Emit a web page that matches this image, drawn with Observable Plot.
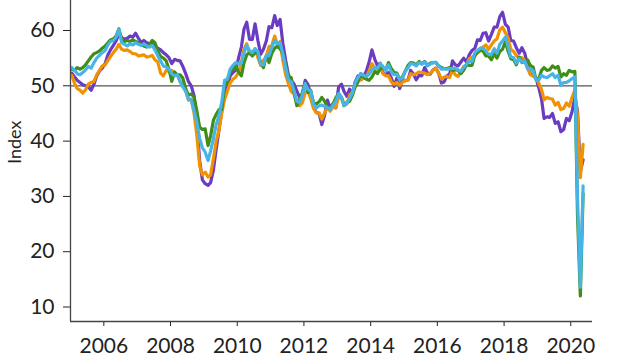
<!DOCTYPE html>
<html><head><meta charset="utf-8">
<script src="https://cdn.jsdelivr.net/npm/d3@7"></script>
<script src="https://cdn.jsdelivr.net/npm/@observablehq/plot@0.6"></script>
<style>body{margin:0;background:#fff}#chart{width:640px;height:360px}</style>
</head><body><div id="chart"></div>
<script>
const startYear = 2005;
const seriesNames = ["Germany manufacturing", "Eurozone manufacturing", "Eurozone services", "Eurozone composite"];
const seriesColors = ["#6a3cc2", "#f39200", "#3e8e17", "#47b4e8"];
const yLabel = "Index";
const yTicks = [10, 20, 30, 40, 50, 60];
const xTickYears = [2006, 2008, 2010, 2012, 2014, 2016, 2018, 2020];
const refValue = 50;

const purple = [
52.3,51.6,51.0,50.6,50.2,50.0,49.8,49.2,50.3,51.8,52.7,53.2,
54.0,55.6,56.5,57.3,58.1,59.4,58.7,58.4,58.6,59.0,58.8,59.5,
58.6,57.8,58.2,57.8,57.6,57.9,57.0,56.8,56.5,56.0,55.6,55.1,
54.0,54.8,54.6,54.5,53.5,52.2,50.8,50.0,48.2,43.5,36.5,33.0,
32.3,32.0,32.5,34.8,38.5,42.0,45.5,49.0,49.8,51.8,52.4,52.8,
55.0,57.0,60.2,61.5,58.4,58.4,61.2,58.2,55.7,56.6,58.1,60.7,
60.5,62.7,60.9,62.0,57.7,54.6,52.0,50.9,50.3,49.1,47.9,48.4,
51.0,50.2,48.4,46.2,45.2,45.0,43.0,44.7,47.4,46.0,46.8,46.0,
49.8,50.3,49.0,48.1,49.4,48.6,50.7,51.8,51.1,51.7,52.7,54.3,
56.5,54.8,53.7,54.1,52.3,52.0,52.4,51.4,49.9,51.4,49.5,51.2,
50.9,51.1,52.8,52.1,51.1,51.9,51.8,53.3,52.3,52.1,52.9,53.2,
52.3,50.5,50.7,51.8,52.1,54.5,53.8,53.6,54.3,55.0,54.3,55.6,
56.4,56.8,58.3,58.2,59.5,59.6,58.1,59.3,60.6,60.6,62.5,63.3,
61.1,60.6,58.2,58.1,56.9,55.9,56.9,55.9,53.7,52.2,51.8,51.5,
49.7,47.6,44.1,44.4,44.3,45.0,43.2,43.5,41.7,42.1,44.1,43.7,
45.3,48.0,45.4,34.5,36.6];

const orange = [
51.9,50.4,49.5,49.2,48.7,49.3,50.3,50.6,50.8,52.0,52.8,53.6,
53.8,54.6,55.3,56.0,56.6,57.5,56.6,56.4,56.5,56.2,55.8,55.8,
55.4,55.5,55.6,55.2,55.3,55.5,54.7,54.3,52.3,51.8,52.8,52.6,
52.8,52.3,52.0,50.7,50.0,49.2,47.4,47.6,45.0,41.1,35.6,33.9,
34.4,33.5,33.9,36.8,40.0,42.0,45.0,47.5,49.0,50.5,51.2,51.6,
52.4,54.2,56.6,57.6,55.8,55.6,56.7,55.1,53.7,54.6,55.3,57.1,
57.3,59.0,57.5,58.0,54.6,52.0,50.4,49.0,48.5,47.1,46.4,46.9,
48.8,49.0,47.7,45.9,45.1,45.1,44.0,45.1,46.1,45.4,46.2,46.1,
47.9,47.9,46.8,46.7,48.3,48.8,50.3,51.4,51.1,51.3,51.6,52.7,
54.0,53.2,53.0,53.4,52.2,51.8,51.8,50.7,50.3,50.6,50.1,50.6,
51.0,51.0,52.2,52.0,52.2,52.5,52.4,52.3,52.0,52.3,52.8,53.2,
52.3,51.2,51.6,51.7,51.5,52.8,52.0,51.7,52.6,53.5,53.7,54.9,
55.2,55.4,56.2,56.7,57.0,57.4,56.6,57.4,58.1,58.5,60.1,60.6,
59.6,58.6,56.6,56.2,55.5,54.9,55.1,54.6,53.2,52.0,51.8,51.4,
50.5,49.3,47.5,47.9,47.7,47.6,46.5,47.0,45.7,45.9,46.9,46.3,
47.9,49.2,44.5,33.4,39.4];

const green = [
53.0,52.8,53.3,53.0,53.3,53.8,54.5,55.2,55.8,56.0,56.3,56.8,
57.2,57.8,58.3,58.5,59.0,60.3,58.5,58.0,58.2,58.0,58.3,58.0,
57.8,57.5,57.2,57.0,57.5,58.2,57.8,56.3,55.3,55.0,54.5,53.0,
50.8,52.5,52.0,52.0,51.4,49.5,48.3,48.5,48.0,45.5,42.5,42.1,
42.2,39.2,40.9,43.8,44.8,45.7,45.7,49.9,50.9,52.6,53.0,53.6,
52.5,51.8,54.1,55.6,56.0,55.4,56.0,55.9,54.1,53.3,55.4,54.2,
55.9,56.8,57.2,56.7,55.8,53.7,51.6,51.5,48.8,46.4,47.5,48.8,
50.5,48.8,49.2,46.9,46.7,47.1,47.9,47.2,46.1,46.0,46.7,47.8,
48.6,47.9,46.4,47.0,47.2,48.3,49.8,50.7,52.2,51.6,51.2,51.0,
51.6,52.6,52.2,53.1,53.2,52.8,54.2,53.1,52.4,52.3,51.1,51.6,
52.7,53.7,54.2,54.1,53.8,54.4,54.0,54.4,53.7,54.1,54.2,54.2,
53.6,53.3,53.1,53.1,53.3,52.8,52.9,52.8,52.2,52.8,53.8,53.7,
53.7,55.5,56.0,56.4,56.3,55.4,55.4,54.7,55.8,55.0,56.2,56.6,
58.0,56.2,54.9,54.7,53.8,55.2,54.2,54.4,54.7,53.7,53.4,51.2,
51.2,52.8,53.3,52.8,52.9,53.6,53.2,53.5,51.6,52.2,51.9,52.8,
52.5,52.6,26.4,12.0,30.5];

const blue = [
53.3,52.8,52.2,52.0,52.4,52.9,53.5,53.2,54.2,55.0,55.5,56.0,
56.4,57.4,58.0,58.2,58.8,60.2,57.8,57.5,57.2,57.6,57.4,57.8,
57.5,57.3,57.6,57.2,57.0,57.3,56.5,55.4,54.5,53.6,53.4,53.0,
52.2,51.8,52.0,50.8,49.8,49.0,47.6,47.5,45.5,43.5,40.5,38.8,
38.0,36.5,38.2,40.5,43.0,44.6,47.0,51.0,51.2,53.0,53.7,54.2,
54.0,54.1,55.9,57.3,56.4,56.0,56.7,56.2,53.8,53.8,55.5,55.5,
57.0,58.2,57.6,57.8,55.8,53.3,51.1,50.7,49.1,47.2,47.0,48.3,
50.4,49.3,49.1,46.7,46.0,46.4,46.5,46.3,46.1,45.7,46.5,47.2,
48.6,47.9,46.5,46.9,47.7,48.7,50.5,51.5,52.2,51.9,51.7,52.1,
52.9,53.3,53.1,54.0,53.5,52.8,53.8,52.5,52.0,52.1,51.1,51.4,
52.6,53.3,54.0,53.9,53.6,54.2,53.9,54.3,53.6,53.9,54.2,54.3,
53.6,53.0,53.1,53.0,53.1,53.1,53.2,52.9,52.6,53.3,53.9,54.4,
54.4,56.0,56.4,56.8,56.8,56.3,55.7,55.7,56.7,55.9,57.5,58.1,
58.8,57.1,55.2,55.1,54.1,54.9,54.3,54.5,53.1,53.1,52.7,51.1,
51.0,51.9,51.6,51.5,51.8,52.2,51.5,51.9,50.1,50.6,50.6,50.9,
51.3,51.6,29.7,13.6,31.9];

const allSeries = [purple, orange, green, blue];
const data = [];
allSeries.forEach((vals, s) => vals.forEach((v, i) => {
  data.push({series: seriesNames[s], date: new Date(Date.UTC(startYear, i, 15)), value: v});
}));

const xDomain = [new Date(Date.UTC(2005, 0, 1)), new Date(Date.UTC(2020, 7, 26))];
const yDomain = [7.38, 72.66];

const chart = Plot.plot({
  width: 640,
  height: 360,
  marginLeft: 70,
  marginRight: 48,
  marginTop: -40,
  marginBottom: 39,
  style: {fontFamily: "Lato, 'Open Sans', sans-serif", fontSize: "21px", color: "#222", background: "white"},
  x: {type: "utc", domain: xDomain, ticks: xTickYears.map(y => new Date(Date.UTC(y, 0, 1))), tickFormat: "%Y", label: null, tickSize: 5, tickPadding: 12},
  y: {domain: yDomain, ticks: yTicks, label: null, tickSize: 7, tickPadding: 9},
  color: {domain: seriesNames, range: seriesColors},
  marks: [
    Plot.ruleY([refValue], {stroke: "#555", strokeWidth: 1.3}),
    Plot.lineY(data, {x: "date", y: "value", stroke: "series", strokeWidth: 3.2, strokeLinejoin: "round"}),
    Plot.ruleX([xDomain[0]], {stroke: "#444", strokeWidth: 1.3}),
    Plot.ruleY([yDomain[0]], {stroke: "#444", strokeWidth: 1.3}),
    Plot.text([yLabel], {text: d => d, frameAnchor: "left", rotate: -90, dx: -55, dy: 23, fontSize: 18, fill: "#222"})
  ]
});
document.getElementById("chart").appendChild(chart);
</script>
</body></html>
